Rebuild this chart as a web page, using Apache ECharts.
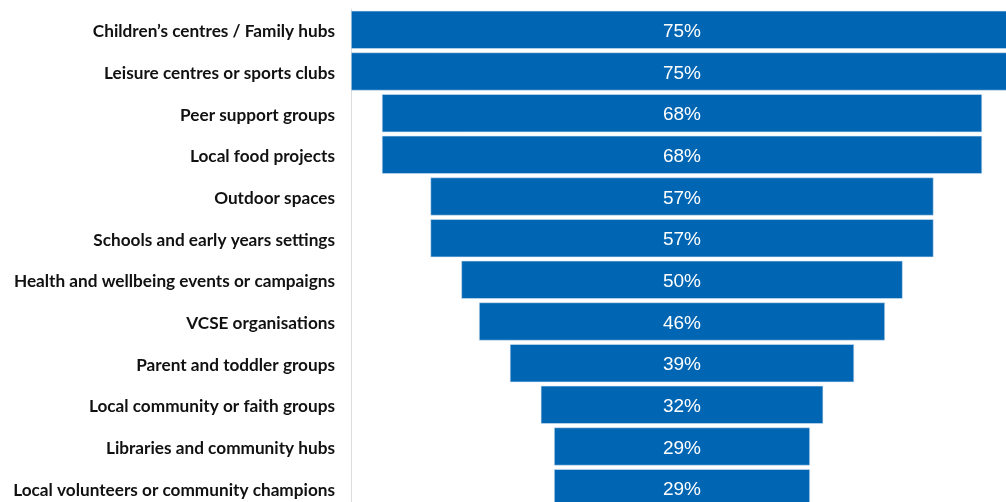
<!DOCTYPE html>
<html>
<head>
<meta charset="utf-8">
<script src="https://cdn.jsdelivr.net/npm/echarts@6/dist/echarts.min.js"></script>
<style>
  html, body { margin: 0; padding: 0; background: #ffffff; }
  #chart { width: 1006px; height: 502px; }
</style>
</head>
<body>
<div id="chart"></div>
<script>
// Places where support was offered (share of respondents, %)
const categories = [
  'Children\u2019s centres / Family hubs',
  'Leisure centres or sports clubs',
  'Peer support groups',
  'Local food projects',
  'Outdoor spaces',
  'Schools and early years settings',
  'Health and wellbeing events or campaigns',
  'VCSE organisations',
  'Parent and toddler groups',
  'Local community or faith groups',
  'Libraries and community hubs',
  'Local volunteers or community champions'
];
const values = [75, 75, 68, 68, 57, 57, 50, 46, 39, 32, 29, 29];

// Bars are centred: an invisible spacer pushes each bar in by half the gap to the largest value.
const maxValue = Math.max(...values);
const spacer = values.map(v => (maxValue - v) / 2);

const chart = echarts.init(document.getElementById('chart'), null, { renderer: 'canvas' });
chart.setOption({
  animation: false,
  // The plot runs slightly past the right and bottom edges of the canvas.
  grid: {
    left: 351, top: 9, width: 662, height: 500,
    containLabel: false,
    outerBoundsMode: 'none'
  },
  xAxis: {
    type: 'value',
    min: 0,
    max: maxValue,
    show: false
  },
  yAxis: {
    type: 'category',
    inverse: true,
    data: categories,
    axisLine: { show: true, lineStyle: { color: '#dcdcdc', width: 1 } },
    axisTick: { show: false },
    axisLabel: {
      margin: 16,
      formatter: name => '{cat|' + name + '}',
      rich: {
        cat: {
          color: '#111111',
          fontFamily: 'Lato',
          fontWeight: 'bold',
          fontSize: 17.2,
          padding: [4, 0, 0, 0]
        }
      }
    }
  },
  series: [
    {
      name: 'spacer',
      type: 'bar',
      stack: 'total',
      data: spacer,
      itemStyle: { color: 'transparent' },
      barCategoryGap: '8.5%',
      silent: true
    },
    {
      name: 'share',
      type: 'bar',
      stack: 'total',
      data: values,
      barCategoryGap: '8.5%',
      itemStyle: { color: '#0066b3', borderColor: '#d6e4f2', borderWidth: 0.6 },
      label: {
        show: true,
        position: 'inside',
        offset: [0, 2],
        formatter: '{c}%',
        color: '#ffffff',
        fontFamily: 'Liberation Sans',
        fontSize: 19
      }
    }
  ]
});
</script>
</body>
</html>
